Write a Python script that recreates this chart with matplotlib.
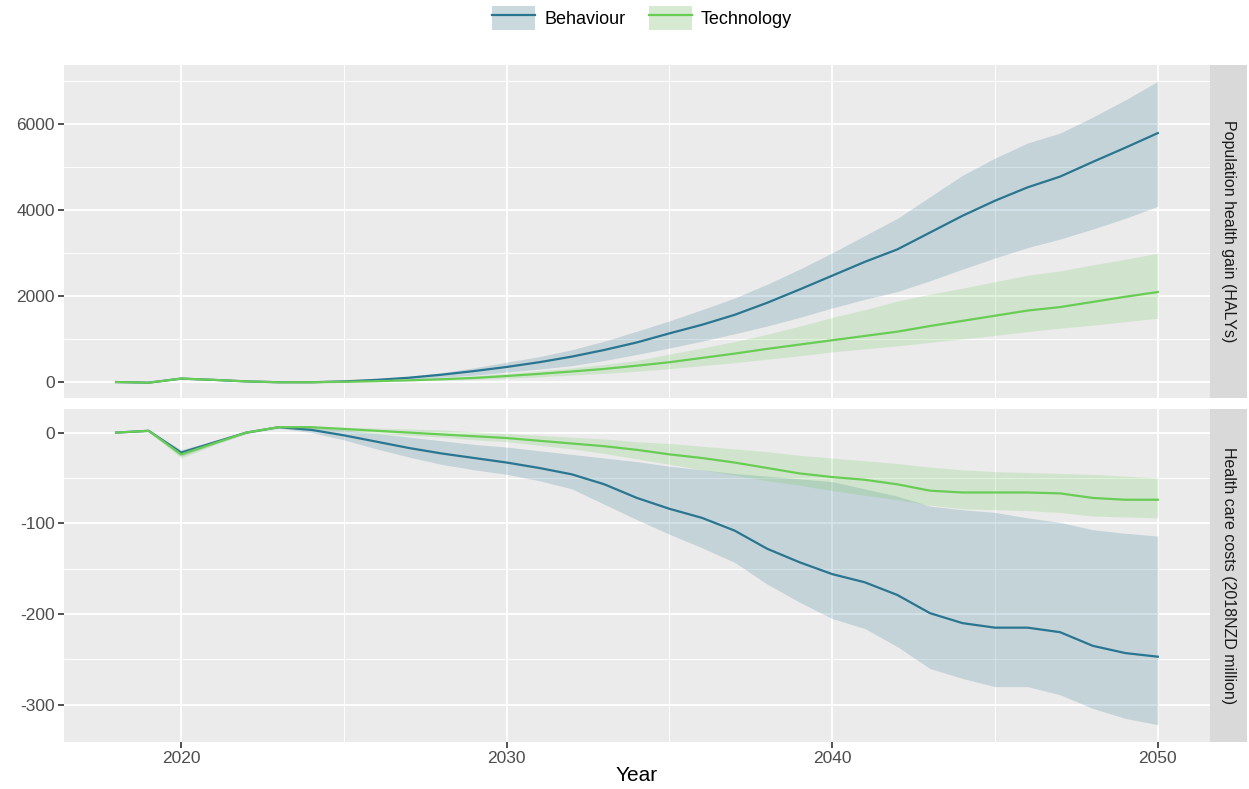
import numpy as np
import matplotlib
matplotlib.use("Agg")
import matplotlib.pyplot as plt
from matplotlib.patches import Patch
from matplotlib.lines import Line2D
from matplotlib.ticker import MultipleLocator

plt.rcParams['font.family'] = ['Liberation Sans', 'DejaVu Sans']
plt.rcParams['axes.unicode_minus'] = False

years = np.arange(2018, 2051)
scenarios = ['Behaviour', 'Technology']
panel_labels = ['Population health gain (HALYs)', 'Health care costs (2018NZD million)']

# population health gain (HALYs)
beh_halys = [0, -15, 80, 50, 15, -5, -5, 15, 50, 100, 170, 255, 350, 460, 590, 745, 920,
             1130, 1330, 1560, 1840, 2150, 2470, 2790, 3080, 3470, 3860, 4210, 4520, 4770,
             5110, 5440, 5780]
beh_halys_hi = [0, -12, 90, 58, 20, 0, 2, 30, 70, 130, 220, 330, 460, 590, 750, 950, 1180,
                1420, 1680, 1950, 2270, 2620, 3000, 3400, 3800, 4300, 4800, 5200, 5550, 5780,
                6150, 6550, 6980]
beh_halys_lo = [0, -18, 70, 42, 10, -10, -12, 0, 30, 65, 110, 160, 230, 300, 380, 500, 640,
                790, 950, 1120, 1300, 1500, 1720, 1920, 2100, 2350, 2620, 2880, 3120, 3320,
                3550, 3800, 4080]
tec_halys = [0, -15, 80, 50, 15, -5, -5, 5, 20, 40, 65, 95, 140, 190, 245, 305, 380,
             460, 560, 660, 770, 870, 970, 1070, 1170, 1300, 1420, 1540, 1660, 1740,
             1860, 1980, 2090]
tec_halys_hi = [0, -12, 90, 58, 20, 0, 0, 10, 30, 60, 100, 145, 200, 260, 330, 410, 500,
                650, 790, 940, 1110, 1300, 1500, 1680, 1880, 2040, 2180, 2330, 2480, 2580,
                2720, 2850, 2990]
tec_halys_lo = [0, -18, 70, 42, 10, -10, -10, 0, 10, 25, 40, 60, 85, 120, 160, 200, 250,
                310, 380, 450, 530, 610, 700, 770, 840, 920, 1000, 1080, 1170, 1250,
                1320, 1400, 1480]

# health care costs (2018NZD million)
beh_cost = [0, 2, -22, -11, 0, 6, 3, -3, -10, -17, -23, -28, -33, -39, -46, -57, -72,
            -84, -94, -108, -128, -143, -156, -165, -179, -199, -210, -215, -215, -220,
            -235, -243, -247]
beh_cost_hi = [0, 3, -19, -9, 1, 7, 6, 3, -1, -5, -9, -13, -16, -20, -24, -28, -32,
               -37, -41, -45, -48, -51, -54, -62, -70, -81, -85, -88, -94, -99,
               -107, -111, -114]
beh_cost_lo = [0, 1, -26, -13, -1, 5, 0, -8, -18, -27, -35, -41, -46, -53, -62, -79, -96,
               -112, -127, -143, -167, -187, -205, -216, -236, -260, -271, -280, -280, -289,
               -304, -315, -322]
tec_cost = [0, 2, -24, -12, 0, 6, 6, 4, 2, 0, -2, -4, -6, -9, -12, -15, -19,
            -24, -28, -33, -39, -45, -49, -52, -57, -64, -66, -66, -66, -67,
            -72, -74, -74]
tec_cost_hi = [0, 3, -21, -10, 1, 7, 7, 6, 5, 4, 3, 1, -1, -3, -5, -7, -10,
               -12, -15, -18, -21, -25, -28, -31, -34, -38, -41, -43, -44, -45,
               -46, -48, -50]
tec_cost_lo = [0, 1, -28, -14, -1, 5, 4, 2, -1, -3, -5, -8, -10, -14, -18, -23, -29,
               -35, -41, -47, -53, -58, -64, -69, -74, -80, -84, -85, -86, -88,
               -92, -93, -94]

colors = {'Behaviour': '#2A7590', 'Technology': '#68CC55'}
panel_bg = '#EBEBEB'

fig = plt.figure(figsize=(12.49, 7.89), dpi=100)
ax1 = fig.add_axes([0.0512, 0.4956, 0.9175, 0.422])
ax2 = fig.add_axes([0.0512, 0.0596, 0.9175, 0.422])

panels = [
    (ax1, {'Behaviour': (beh_halys, beh_halys_lo, beh_halys_hi),
           'Technology': (tec_halys, tec_halys_lo, tec_halys_hi)}),
    (ax2, {'Behaviour': (beh_cost, beh_cost_lo, beh_cost_hi),
           'Technology': (tec_cost, tec_cost_lo, tec_cost_hi)}),
]

for ax, data in panels:
    ax.set_facecolor(panel_bg)
    for s in scenarios:
        mean, lo, hi = data[s]
        ax.fill_between(years, lo, hi, color=colors[s], alpha=0.2, lw=0)
    for s in scenarios:
        mean, lo, hi = data[s]
        ax.plot(years, mean, color=colors[s], lw=1.6)
    for sp in ax.spines.values():
        sp.set_visible(False)
    ax.set_axisbelow(True)
    ax.set_xlim(2016.4, 2051.6)
    ax.xaxis.set_major_locator(MultipleLocator(10))
    ax.xaxis.set_minor_locator(MultipleLocator(5))
    ax.grid(which='major', color='white', lw=1.3)
    ax.grid(which='minor', color='white', lw=0.65)
    ax.tick_params(which='major', length=4, width=1.2, color='#333333',
                   labelcolor='#4D4D4D', labelsize=12.5, pad=2.5)
    ax.tick_params(which='minor', length=0)

ax1.tick_params(axis='x', which='major', length=0, labelbottom=False)

ax1.set_ylim(-370, 7360)
ax1.yaxis.set_major_locator(MultipleLocator(2000))
ax1.yaxis.set_minor_locator(MultipleLocator(1000))

ax2.set_ylim(-341, 26)
ax2.yaxis.set_major_locator(MultipleLocator(100))
ax2.yaxis.set_minor_locator(MultipleLocator(50))
ax2.set_xlabel('Year', fontsize=15, color='black', labelpad=0)

# facet strips on the right
for ax, label in zip([ax1, ax2], panel_labels):
    pos = ax.get_position()
    strip = fig.add_axes([pos.x1, pos.y0, 0.0296, pos.height])
    strip.set_facecolor('#D9D9D9')
    strip.set_xticks([])
    strip.set_yticks([])
    for sp in strip.spines.values():
        sp.set_visible(False)
    strip.text(0.5, 0.5, label, rotation=-90, ha='center', va='center',
               fontsize=11.5, color='#1A1A1A', transform=strip.transAxes)

# legend at top
handles = []
for s in scenarios:
    handles.append((Patch(facecolor='#F2F2F2', edgecolor='none'),
                    Patch(facecolor=colors[s], alpha=0.2, edgecolor='none'),
                    Line2D([], [], color=colors[s], lw=1.6)))
fig.legend(handles, scenarios, loc='center', bbox_to_anchor=(0.514, 0.977), ncol=2,
           frameon=False, fontsize=13, handlelength=2.4, handleheight=1.7,
           columnspacing=1.3, handletextpad=0.5)

fig.savefig('out.png', dpi=100)
